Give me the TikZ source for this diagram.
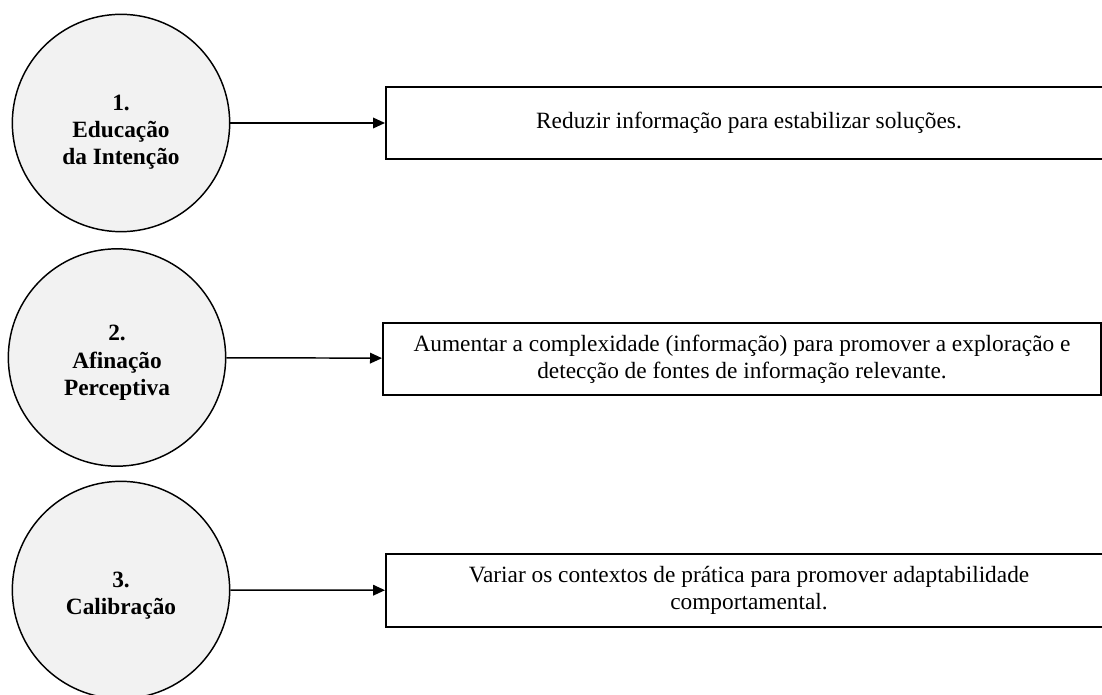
\documentclass[tikz,border=0pt]{standalone}
\usepackage{fontspec}
\setmainfont{Liberation Serif}
\usetikzlibrary{arrows.meta}
\definecolor{StageGray}{HTML}{F2F2F2}
\newcommand{\stagelift}[1]{\rule{0pt}{#1}}

\begin{document}
\begin{tikzpicture}[x=0.75pt, y=-0.75pt,
    stage/.style={circle, draw=black, line width=1.1pt, fill=StageGray,
                  minimum size=163pt, inner sep=0pt, align=center,
                  font=\fontsize{17.5}{20.5}\selectfont\bfseries},
    goal/.style={draw=black, line width=1.5pt, minimum width=544.5pt,
                 minimum height=54.5pt, inner sep=4pt, align=center,
                 font=\fontsize{17.5}{20.5}\selectfont},
    link/.style={-{Triangle[length=9pt, width=8pt]}, line width=1.1pt}]
  \useasboundingbox (0,0) rectangle (1102,695);

  % stages
  \node[stage] (intent) at (121,123) {\stagelift{25.5pt}1.\\Educação\\da Intenção};
  \node[stage] (tuning) at (117,357.5) {\stagelift{19.5pt}2.\\Afinação\\Perceptiva};
  \node[stage] (calib)  at (121,590) {\stagelift{20.5pt}3.\\Calibração};

  % goals
  \node[goal] (reduce) at (749,123) {Reduzir informação para estabilizar soluções.};
  \node[goal, minimum width=538.5pt] (explore) at (742,359)
        {Aumentar a complexidade (informação) para promover a exploração e\\detecção de fontes de informação relevante.};
  \node[goal] (vary) at (749,590.5)
        {Variar os contextos de prática para promover adaptabilidade\\comportamental.};

  \draw[link] (intent) -- (reduce);
  \draw[link] (tuning) -- (explore);
  \draw[link] (calib) -- (vary);
\end{tikzpicture}
\end{document}
